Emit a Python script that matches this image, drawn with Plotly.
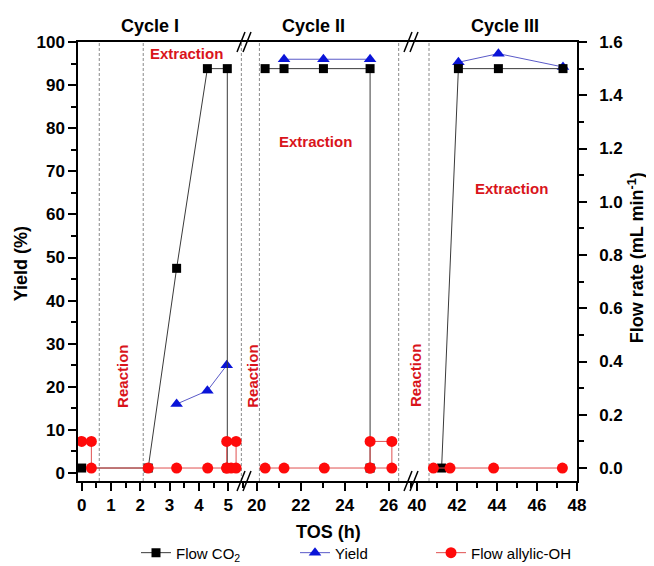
import plotly.graph_objects as go

# ---------------- data ----------------
# Flow CO2 (mL/min, right axis)
co2_x1 = [0, 2.27, 3.24, 4.29, 4.97, 4.97]
co2_y1 = [0.0, 0.0, 0.75, 1.5, 1.5, 0.0]
co2_x2 = [20.38, 21.24, 23.03, 25.15, 25.15]
co2_y2 = [1.5, 1.5, 1.5, 1.5, 0.0]
co2_x3 = [41.23, 42.07, 44.07, 47.3]
co2_y3 = [0.0, 1.5, 1.5, 1.5]

# Yield (%, left axis)
yield_x1 = [3.24, 4.29, 4.95]
yield_y1 = [16.0, 19.1, 25.0]
yield_x2 = [21.24, 23.03, 25.15]
yield_y2 = [96.0, 96.0, 96.0]
yield_x3 = [42.07, 44.07, 47.3]
yield_y3 = [95.3, 97.3, 94.2]

# Flow allylic-OH (mL/min, right axis)
oh_x1 = [0, 0.33, 0.33, 2.27, 3.24, 4.3, 4.95, 4.95, 5.27, 5.27, 5.1, 4.95]
oh_y1 = [0.1, 0.1, 0.0, 0.0, 0.0, 0.0, 0.0, 0.1, 0.1, 0.0, 0.0, 0.0]
oh_x2 = [20.38, 21.24, 23.07, 25.15, 25.15, 26.14, 26.14, 25.15]
oh_y2 = [0.0, 0.0, 0.0, 0.0, 0.1, 0.1, 0.0, 0.0]
oh_x3 = [40.82, 41.65, 43.83, 47.27]
oh_y3 = [0.0, 0.0, 0.0, 0.0]

# phase boundaries (dashed lines), per segment
bounds1 = [0.6, 2.1, 5.45]
bounds2 = [20.12, 26.45]
bounds3 = [40.6]

cycle_labels = ["Cycle I", "Cycle II", "Cycle III"]
x_tick_step = [1, 2, 2]
x_ranges = [[-0.126, 5.54], [19.42, 27.01], [39.7, 48.0]]
yield_range = [-1.85, 100]
flow_range = [-0.0487, 1.6]

# ---------------- layout constants ----------------
# The page body has an 8px margin, so figure coords = window coords - 8.
OFF = 8
W, H = 654, 566
PL, PR, PT, PB = 78, 577, 41.5, 481          # plot box in window pixels
ML = PL - OFF
MT = PT - OFF
MR = W - (PR - OFF)
MB = H - (PB - OFF)
PW = PR - PL
PH = PB - PT
d1 = (244 - PL) / PW
d2 = (411 - PL) / PW
FONT = "Liberation Sans, Arial, sans-serif"
RED_TXT = "#d9141b"


def px_x(px):
    return (px - PL) / PW


def px_y(py):
    return (PB - py) / PH


fig = go.Figure()

segs = [
    ("x", co2_x1, co2_y1, yield_x1, yield_y1, oh_x1, oh_y1),
    ("x2", co2_x2, co2_y2, yield_x2, yield_y2, oh_x2, oh_y2),
    ("x3", co2_x3, co2_y3, yield_x3, yield_y3, oh_x3, oh_y3),
]
for i, (xa, cx, cy, yx, yy, ox, oy) in enumerate(segs):
    first = i == 0
    fig.add_trace(go.Scatter(
        x=cx, y=cy, xaxis=xa, yaxis="y2", mode="lines+markers",
        name="Flow CO<sub>2</sub>", legend="legend", showlegend=first,
        line=dict(color="#3a3a3a", width=1),
        marker=dict(symbol="square", size=9, color="black"),
    ))
    fig.add_trace(go.Scatter(
        x=yx, y=yy, xaxis=xa, yaxis="y", mode="lines+markers",
        name="Yield", legend="legend2", showlegend=first,
        line=dict(color="#5a5ac8", width=1),
        marker=dict(symbol="triangle-up", size=11, color="#0a14d8"),
    ))
    fig.add_trace(go.Scatter(
        x=ox, y=oy, xaxis=xa, yaxis="y2", mode="lines+markers",
        name="Flow allylic-OH", legend="legend3", showlegend=first,
        line=dict(color="#e05050", width=1),
        marker=dict(symbol="circle", size=11, color="#ff0a0a"),
    ))

tickfont = dict(size=17, family=FONT, color="black", weight="bold")


def xaxis_cfg(domain, rng, step):
    return dict(
        domain=domain, range=rng, anchor="y", showline=True, linecolor="black",
        linewidth=1.5, mirror=True, ticks="outside", ticklen=8, tickwidth=1.5,
        tickcolor="black", showgrid=False, zeroline=False, tick0=0, dtick=step,
        tickfont=tickfont, automargin=False,
        minor=dict(ticks="outside", ticklen=5, tickwidth=1.5, tickcolor="black",
                   dtick=step / 2, showgrid=False),
    )


legend_common = dict(xanchor="left", yanchor="middle", orientation="h",
                     font=dict(size=15, family=FONT, color="black"),
                     bgcolor="rgba(0,0,0,0)")

fig.update_layout(
    width=W, height=H,
    margin=dict(l=ML, r=MR, t=MT, b=MB, autoexpand=False),
    plot_bgcolor="white", paper_bgcolor="white",
    xaxis=xaxis_cfg([0, d1], x_ranges[0], x_tick_step[0]),
    xaxis2=xaxis_cfg([d1, d2], x_ranges[1], x_tick_step[1]),
    xaxis3=xaxis_cfg([d2, 1], x_ranges[2], x_tick_step[2]),
    yaxis=dict(
        range=yield_range, anchor="x", showline=True, linecolor="black", linewidth=1.5,
        ticks="outside", ticklen=8, tickwidth=1.5, tickcolor="black", showgrid=False,
        zeroline=False, tick0=0, dtick=10, tickfont=tickfont, automargin=False,
        minor=dict(ticks="outside", ticklen=5, tickwidth=1.5, tickcolor="black",
                   dtick=5, showgrid=False),
    ),
    yaxis2=dict(
        range=flow_range, overlaying="y", side="right", anchor="x3", showline=True,
        linecolor="black", linewidth=1.5, ticks="outside", ticklen=8, tickwidth=1.5,
        tickcolor="black", showgrid=False, zeroline=False, tick0=0, dtick=0.2,
        tickformat=".1f", tickfont=tickfont, ticklabelstandoff=9, automargin=False,
        minor=dict(ticks="outside", ticklen=5, tickwidth=1.5, tickcolor="black",
                   dtick=0.1, showgrid=False),
    ),
    legend=dict(x=px_x(136), y=px_y(553), **legend_common),
    legend2=dict(x=px_x(295), y=px_y(553), **legend_common),
    legend3=dict(x=px_x(431), y=px_y(553), **legend_common),
)

# dashed phase boundaries
shapes = []
for xa, bl in (("x", bounds1), ("x2", bounds2), ("x3", bounds3)):
    for b in bl:
        shapes.append(dict(type="line", xref=xa, yref="paper", x0=b, x1=b, y0=0, y1=1,
                           line=dict(color="#8a8a8a", width=1, dash="3px,2px"), layer="below"))

# axis break marks "//"
for d in (d1, d2):
    bx = PL + d * PW
    for ay in (PT, PB):
        for off in (-3, 3):
            shapes.append(dict(type="line", xref="paper", yref="paper",
                               x0=px_x(bx + off - 4), y0=px_y(ay + 10),
                               x1=px_x(bx + off + 4), y1=px_y(ay - 10),
                               line=dict(color="black", width=1.5)))
fig.update_layout(shapes=shapes)

ann = []
# cycle labels
for lab, cx in zip(cycle_labels, (150, 313, 505)):
    ann.append(dict(text=lab, xref="paper", yref="paper", x=px_x(cx), y=px_y(25),
                    xanchor="center", yanchor="middle", showarrow=False,
                    font=dict(size=18, family=FONT, color="black", weight="bold")))
# phase texts
ext = [("x", 3.58, 97.3), ("x2", 22.65, 77), ("x3", 44.7, 66)]
for xa, xx, yy in ext:
    ann.append(dict(text="Extraction", xref=xa, yref="y", x=xx, y=yy, showarrow=False,
                    xanchor="center", yanchor="middle",
                    font=dict(size=15, family=FONT, color=RED_TXT, weight="bold")))
rea = [("x", 1.37, 22.5), ("x2", 19.77, 22.5), ("x3", 39.9, 22.5)]
for xa, xx, yy in rea:
    ann.append(dict(text="Reaction", xref=xa, yref="y", x=xx, y=yy, showarrow=False,
                    textangle=-90, xanchor="center", yanchor="middle",
                    font=dict(size=15, family=FONT, color=RED_TXT, weight="bold")))
# axis titles
ann.append(dict(text="Yield (%)", xref="paper", yref="paper", x=px_x(21), y=px_y(264),
                showarrow=False, textangle=-90, xanchor="center", yanchor="middle",
                font=dict(size=18, family=FONT, color="black", weight="bold")))
ann.append(dict(text="Flow rate (mL min<sup>-1</sup>)", xref="paper", yref="paper",
                x=px_x(636), y=px_y(258), showarrow=False, textangle=-90,
                xanchor="center", yanchor="middle",
                font=dict(size=18, family=FONT, color="black", weight="bold")))
ann.append(dict(text="TOS (h)", xref="paper", yref="paper", x=px_x(328), y=px_y(532),
                showarrow=False, xanchor="center", yanchor="middle",
                font=dict(size=18, family=FONT, color="black", weight="bold")))
fig.update_layout(annotations=ann)

fig.write_html("out.html")
